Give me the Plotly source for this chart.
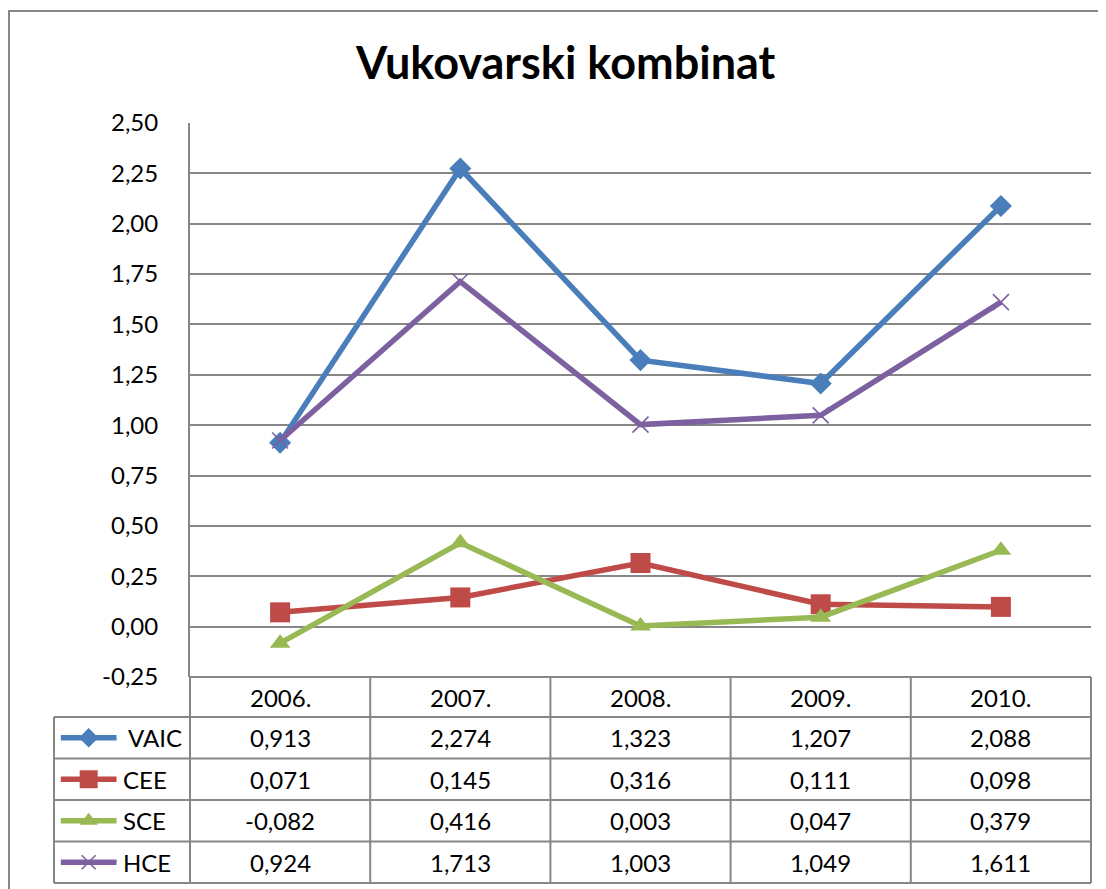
import plotly.graph_objects as go

W, H = 1098, 881   # page body has an 8px margin; this fills the 1106x889 window
OFF = 8
years = ["2006.", "2007.", "2008.", "2009.", "2010."]
series_names = ["VAIC", "CEE", "SCE", "HCE"]
vaic = [0.913, 2.274, 1.323, 1.207, 2.088]
cee = [0.071, 0.145, 0.316, 0.111, 0.098]
sce = [-0.082, 0.416, 0.003, 0.047, 0.379]
hce = [0.924, 1.713, 1.003, 1.049, 1.611]
values = [vaic, cee, sce, hce]
y_ticks = [-0.25, 0, 0.25, 0.5, 0.75, 1.0, 1.25, 1.5, 1.75, 2.0, 2.25, 2.5]

colors = ["#4A7EBB", "#BE4B48", "#98B954", "#7D60A0"]
symbols = ["diamond", "square", "triangle-up", "x-thin"]
sizes = [17, 20, 18, 16]
key_sizes = [15, 18, 16, 14]
GRID = "#868686"
FONT = "Lato, Carlito, Calibri, sans-serif"
FS = 24


def px(x):
    return (x - OFF) / W


def py(y):
    return 1 - (y - OFF) / H


def fmt(v, d):
    return f"{v:.{d}f}".replace(".", ",")


def marker(s, sz, c):
    mk = dict(symbol=s, size=sz, color=c, opacity=1)
    if s == "x-thin":
        mk["line"] = dict(color=c, width=1.6)
    else:
        mk["line"] = dict(width=0)
    return mk


fig = go.Figure()

for name, vals, c, s, sz in zip(series_names, values, colors, symbols, sizes):
    fig.add_trace(go.Scatter(x=years, y=vals, mode="lines+markers", name=name,
                             line=dict(color=c, width=5.5), marker=marker(s, sz, c),
                             xaxis="x", yaxis="y", showlegend=False, cliponaxis=False))

# legend keys in table's left column
for name, c, s, sz in zip(series_names, colors, symbols, key_sizes):
    fig.add_trace(go.Scatter(x=[0.05, 0.46], y=[name] * 2, mode="lines",
                             line=dict(color=c, width=5.5),
                             xaxis="x2", yaxis="y2", showlegend=False, hoverinfo="skip"))
    fig.add_trace(go.Scatter(x=[0.255], y=[name], mode="markers",
                             marker=marker(s, sz, c),
                             xaxis="x2", yaxis="y2", showlegend=False, hoverinfo="skip"))

plot_l, plot_r, plot_t, plot_b = 190, 1091, 123, 677
leg_l = 54
tbl_b = 883

fig.update_layout(
    template="none",
    width=W, height=H, autosize=False,
    margin=dict(l=0, r=0, t=0, b=0, pad=0),
    paper_bgcolor="white", plot_bgcolor="white",
    separators=",.",
    font=dict(family=FONT, size=FS, color="black"),
    xaxis=dict(domain=[px(plot_l), px(plot_r)], type="category",
               categoryarray=years, range=[-0.5, 4.5], automargin=False,
               showticklabels=False, showgrid=False, zeroline=False,
               showline=False, fixedrange=True),
    yaxis=dict(domain=[py(plot_b), py(plot_t)], range=[-0.25, 2.5], automargin=False,
               tickvals=y_ticks, ticktext=[fmt(v, 2) for v in y_ticks],
               showgrid=True, gridcolor=GRID, gridwidth=2,
               zeroline=False, showline=True, linecolor=GRID, linewidth=2,
               ticks="", ticklabelstandoff=25,
               tickfont=dict(family=FONT, size=FS, color="black")),
    xaxis2=dict(domain=[px(leg_l), px(plot_l)], range=[0, 1], visible=False,
                automargin=False, fixedrange=True),
    yaxis2=dict(domain=[py(tbl_b), py(plot_b + 40)], type="category",
                categoryarray=series_names[::-1], range=[-0.5, 3.5],
                automargin=False, visible=False, anchor="x2"),
    showlegend=False,
)

shapes = []
line = dict(color=GRID, width=2)
# outer chart border (left and top visible)
shapes.append(dict(type="line", xref="paper", yref="paper", x0=px(8), x1=px(1110),
                   y0=py(11), y1=py(11), line=line))
shapes.append(dict(type="line", xref="paper", yref="paper", x0=px(9), x1=px(9),
                   y0=py(11), y1=py(895), line=line))
# bottom axis line / table header top
shapes.append(dict(type="line", xref="x domain", yref="paper", x0=0, x1=1,
                   y0=py(plot_b), y1=py(plot_b), line=line))
# column boundaries
for i in range(len(years) + 1):
    shapes.append(dict(type="line", xref="x domain", yref="paper", x0=i / len(years),
                       x1=i / len(years), y0=py(plot_b), y1=py(tbl_b), line=line))
# row boundaries
for j in range(len(series_names) + 1):
    shapes.append(dict(type="line", xref="paper", yref="y2 domain", x0=px(leg_l),
                       x1=px(plot_r), y0=j / len(series_names), y1=j / len(series_names),
                       line=line))
shapes.append(dict(type="line", xref="paper", yref="y2 domain", x0=px(leg_l),
                   x1=px(leg_l), y0=0, y1=1, line=line))
fig.update_layout(shapes=shapes)

ann = []
ann.append(dict(text="<b>Vukovarski kombinat</b>", xref="paper", yref="paper",
                x=px(565), y=py(62), xanchor="center", yanchor="middle", showarrow=False,
                font=dict(family=FONT, size=45, color="black")))
for i, yr in enumerate(years):
    ann.append(dict(text=yr, xref="x", yref="paper", x=i, y=py(697),
                    xanchor="center", yanchor="middle", showarrow=False,
                    font=dict(size=FS)))
for j, (name, vals) in enumerate(zip(series_names, values)):
    ann.append(dict(text=name, xref="x2", yref="y2", x=0.49 if j else 0.53,
                    y=len(series_names) - 1 - j,
                    xanchor="left", yanchor="middle", showarrow=False, font=dict(size=FS)))
    for i, v in enumerate(vals):
        ann.append(dict(text=fmt(v, 3), xref="x", yref="y2", x=i,
                        y=len(series_names) - 1 - j, xanchor="center", yanchor="middle",
                        showarrow=False, font=dict(size=FS)))
fig.update_layout(annotations=ann)

fig.write_html("out.html")
